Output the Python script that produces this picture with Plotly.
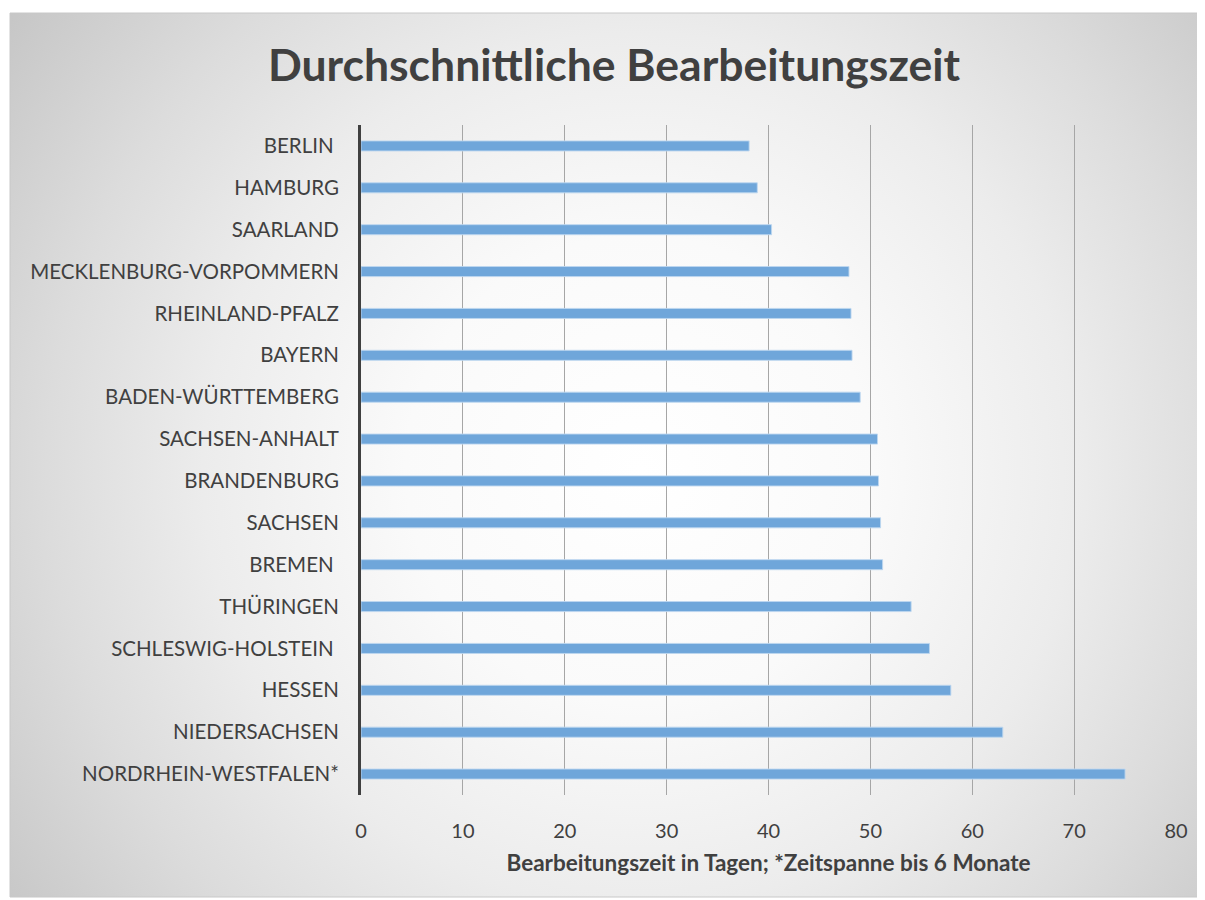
import base64
import plotly.graph_objects as go

categories = [
    "BERLIN\u00a0", "HAMBURG", "SAARLAND", "MECKLENBURG-VORPOMMERN", "RHEINLAND-PFALZ",
    "BAYERN", "BADEN-WÜRTTEMBERG", "SACHSEN-ANHALT", "BRANDENBURG", "SACHSEN",
    "BREMEN\u00a0", "THÜRINGEN", "SCHLESWIG-HOLSTEIN\u00a0", "HESSEN", "NIEDERSACHSEN",
    "NORDRHEIN-WESTFALEN*",
]
values = [38.1, 38.9, 40.3, 47.9, 48.1, 48.2, 49.0, 50.7, 50.8, 51.0, 51.2, 54.0, 55.8, 57.9, 63.0, 75.0]
tick_values = [0, 10, 20, 30, 40, 50, 60, 70, 80]

O = 8  # page offset (body margin)
W, H = 1205 - O, 900 - O
L, R, T, B = 361 - O, 1176 - O, 125 - O, 795 - O
pw, ph = R - L, B - T

def px_x(p):
    return (p - O - L) / pw

def px_y(p):
    return (B - (p - O)) / ph

svg = '''<svg xmlns="http://www.w3.org/2000/svg" width="1190" height="884" viewBox="0 0 1190 884" preserveAspectRatio="none">
<defs><radialGradient id="g" cx="630" cy="457" r="780" gradientUnits="userSpaceOnUse">
<stop offset="0" stop-color="#ffffff"/><stop offset="0.3" stop-color="#fafafa"/>
<stop offset="0.56" stop-color="#ececec"/><stop offset="0.76" stop-color="#dcdcdc"/>
<stop offset="1" stop-color="#c6c6c6"/>
</radialGradient></defs>
<rect x="0" y="0" width="1190" height="884" fill="url(#g)"/></svg>'''
src = "data:image/svg+xml;base64," + base64.b64encode(svg.encode()).decode()

font = "Lato, Open Sans, sans-serif"

fig = go.Figure(go.Bar(
    x=values, y=categories, orientation="h",
    marker=dict(color="#6fa6da", line=dict(color="rgba(190,215,240,0.9)", width=1)),
    hoverinfo="x+y",
))

fig.update_layout(
    width=W, height=H,
    margin=dict(l=L, r=W - R, t=T, b=H - B, autoexpand=False),
    paper_bgcolor="white", plot_bgcolor="rgba(0,0,0,0)",
    bargap=0.76,
    showlegend=False,
    title=dict(text="<b>Durchschnittliche Bearbeitungszeit</b>", x=(614 - O) / W, xanchor="center",
               y=1 - (65 - O) / H, yanchor="middle",
               font=dict(family=font, size=44.5, color="#404040")),
    xaxis=dict(range=[0, 80], tickvals=tick_values, showgrid=True, gridcolor="#a6a6a6", gridwidth=1,
               zeroline=False, showline=False, ticks="", ticklabelstandoff=22,
               tickfont=dict(family=font, size=20, color="#404040"),
               title=dict(text="<b>Bearbeitungszeit in Tagen; *Zeitspanne bis 6 Monate</b>", standoff=14,
                          font=dict(family=font, size=22.5, color="#404040"))),
    yaxis=dict(categoryorder="array", categoryarray=categories[::-1],
               showline=True, linecolor="#404040", linewidth=3, showgrid=False, ticks="",
               ticklabelstandoff=15,
               tickfont=dict(family=font, size=20.5, color="#404040")),
    images=[dict(source=src, xref="paper", yref="paper", x=px_x(10), y=px_y(13),
                 sizex=1190 / pw, sizey=884 / ph, xanchor="left", yanchor="top",
                 sizing="stretch", layer="below")],
    shapes=[dict(type="rect", xref="paper", yref="paper", x0=px_x(10), x1=px_x(1200),
                 y0=px_y(897), y1=px_y(13), line=dict(color="#c8c8c8", width=1), layer="below")],
)

fig.write_html("out.html")
